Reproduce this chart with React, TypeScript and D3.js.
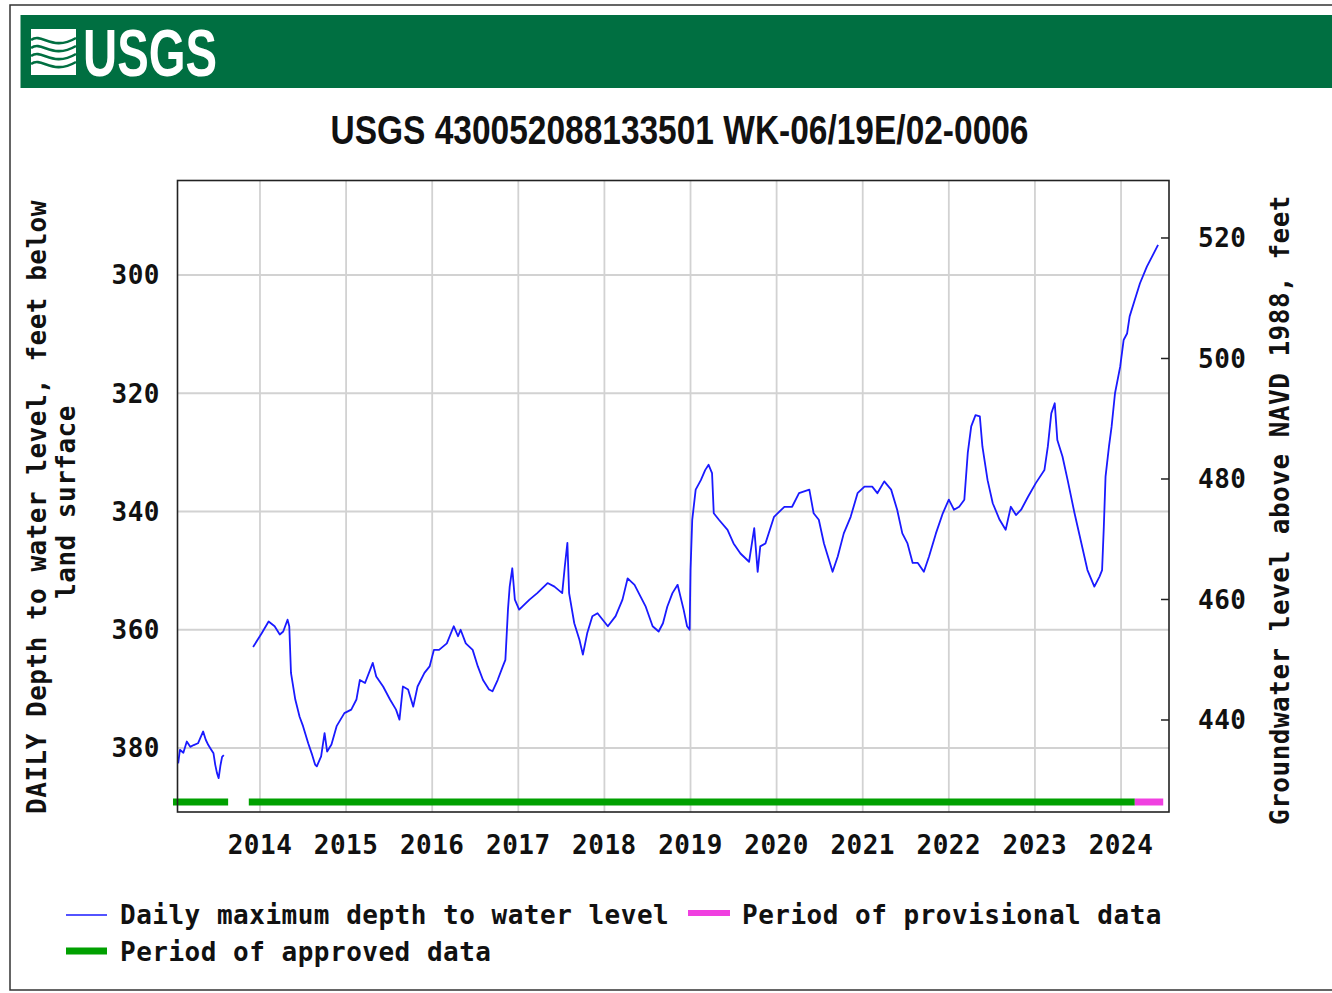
import * as d3 from "d3";

const yearTicks = [2014, 2015, 2016, 2017, 2018, 2019, 2020, 2021, 2022, 2023, 2024];
const depthTicks = [300, 320, 340, 360, 380];
const elevTicks = [440, 460, 480, 500, 520];

// [decimal year, depth below land surface (ft)]
const record2013: [number, number][] = [
  [2013.05, 382.6], [2013.07, 380.3], [2013.11, 380.8], [2013.15, 378.9], [2013.19, 379.8], [2013.23, 379.5],
  [2013.28, 379.2], [2013.34, 377.2], [2013.37, 378.6], [2013.40, 379.5], [2013.43, 380.2], [2013.46, 380.9],
  [2013.48, 382.8], [2013.50, 384.2], [2013.52, 385.1], [2013.54, 383.0], [2013.56, 381.5], [2013.58, 381.2],
];

const record2014on: [number, number][] = [
  [2013.92, 362.9], [2014.02, 360.6], [2014.10, 358.6], [2014.17, 359.4], [2014.23, 360.8], [2014.27, 360.3],
  [2014.32, 358.3], [2014.34, 359.4], [2014.36, 367.3], [2014.41, 371.8], [2014.46, 374.7], [2014.50, 376.3],
  [2014.56, 379.2], [2014.60, 380.9], [2014.64, 382.8], [2014.66, 383.1], [2014.71, 381.4], [2014.75, 377.5],
  [2014.78, 380.6], [2014.83, 379.4], [2014.89, 376.3], [2014.98, 374.1], [2015.06, 373.5], [2015.12, 371.8],
  [2015.16, 368.5], [2015.22, 369.0], [2015.31, 365.6], [2015.35, 367.9], [2015.43, 369.6], [2015.51, 371.8],
  [2015.58, 373.5], [2015.62, 375.2], [2015.66, 369.6], [2015.72, 370.1], [2015.78, 373.0], [2015.83, 369.6],
  [2015.91, 367.3], [2015.97, 366.2], [2016.02, 363.4], [2016.08, 363.4], [2016.17, 362.3], [2016.25, 359.4],
  [2016.30, 361.1], [2016.33, 360.0], [2016.39, 362.3], [2016.47, 363.4], [2016.53, 366.2], [2016.59, 368.5],
  [2016.66, 370.1], [2016.70, 370.4], [2016.76, 368.5], [2016.82, 366.2], [2016.85, 365.1], [2016.88, 356.6],
  [2016.90, 352.7], [2016.93, 349.6], [2016.96, 354.9], [2017.01, 356.6], [2017.13, 354.9], [2017.22, 353.8],
  [2017.34, 352.1], [2017.42, 352.7], [2017.51, 353.8], [2017.54, 349.3], [2017.57, 345.3], [2017.59, 353.8],
  [2017.65, 358.9], [2017.71, 361.7], [2017.75, 364.2], [2017.80, 360.6], [2017.86, 357.7], [2017.92, 357.2],
  [2017.98, 358.3], [2018.04, 359.4], [2018.13, 357.7], [2018.21, 354.9], [2018.27, 351.3], [2018.35, 352.4],
  [2018.42, 354.4], [2018.48, 356.1], [2018.56, 359.4], [2018.63, 360.3], [2018.68, 358.9], [2018.73, 356.1],
  [2018.79, 353.8], [2018.85, 352.4], [2018.92, 356.6], [2018.96, 359.4], [2018.99, 360.0], [2019.00, 350.0],
  [2019.02, 341.4], [2019.06, 336.3], [2019.12, 334.7], [2019.17, 333.0], [2019.21, 332.1], [2019.25, 333.5],
  [2019.27, 340.3], [2019.33, 341.4], [2019.43, 343.1], [2019.50, 345.4], [2019.58, 347.1], [2019.68, 348.5],
  [2019.74, 342.8], [2019.78, 350.2], [2019.81, 345.9], [2019.87, 345.4], [2019.97, 340.9], [2020.09, 339.2],
  [2020.18, 339.2], [2020.26, 336.9], [2020.38, 336.3], [2020.43, 340.3], [2020.49, 341.4], [2020.55, 345.4],
  [2020.65, 350.2], [2020.71, 347.6], [2020.78, 343.7], [2020.86, 340.9], [2020.94, 336.9], [2021.02, 335.8],
  [2021.11, 335.8], [2021.17, 336.9], [2021.25, 334.9], [2021.33, 336.3], [2021.40, 339.7], [2021.46, 343.7],
  [2021.52, 345.4], [2021.58, 348.7], [2021.64, 348.7], [2021.71, 350.2], [2021.77, 347.6], [2021.85, 343.7],
  [2021.93, 340.3], [2022.00, 338.0], [2022.06, 339.7], [2022.12, 339.2], [2022.18, 338.0], [2022.22, 330.1],
  [2022.26, 325.6], [2022.31, 323.7], [2022.36, 323.9], [2022.39, 329.0], [2022.45, 334.7], [2022.51, 338.6],
  [2022.59, 341.4], [2022.66, 343.1], [2022.72, 339.2], [2022.78, 340.6], [2022.84, 339.7], [2022.92, 337.5],
  [2023.01, 335.2], [2023.11, 333.0], [2023.15, 329.0], [2023.19, 323.4], [2023.23, 321.7], [2023.26, 327.9],
  [2023.32, 330.7], [2023.38, 334.7], [2023.46, 340.3], [2023.54, 345.4], [2023.61, 349.9], [2023.69, 352.7],
  [2023.75, 351.0], [2023.78, 349.9], [2023.80, 342.6], [2023.82, 334.1], [2023.86, 329.0], [2023.89, 325.7],
  [2023.93, 320.0], [2023.99, 315.5], [2024.03, 311.0], [2024.07, 309.9], [2024.10, 307.0], [2024.16, 304.2],
  [2024.22, 301.4], [2024.30, 298.6], [2024.36, 296.9], [2024.43, 294.9],
];

const approvedPeriods: [number, number][] = [[2012.99, 2013.63], [2013.87, 2024.16]];
const provisionalPeriods: [number, number][] = [[2024.16, 2024.49]];

const mono = "'DejaVu Sans Mono', 'Liberation Mono', monospace";
const narrow = "'Liberation Sans Narrow', 'Arial Narrow', 'Liberation Sans', sans-serif";
const ink = "#111";
const green = "#00a000";
const pink = "#f040e0";
const blue = "#1a1aff";

export default function App() {
  const plot = { left: 177.5, right: 1169, top: 180.5, bottom: 812 };
  const x = d3.scaleLinear().domain([2013.042, 2024.557]).range([plot.left, plot.right]);
  const yDepth = d3.scaleLinear().domain([284.02, 390.82]).range([plot.top, plot.bottom]);
  const yElev = d3.scaleLinear().domain([529.54, 424.73]).range([plot.top, plot.bottom]);
  const line = d3.line<[number, number]>().x(d => x(d[0])).y(d => yDepth(d[1]));
  const barY = plot.bottom - 10;

  return (
    <svg width={1332} height={993} style={{ position: "absolute", left: 0, top: 0, background: "#fff" }}>
      <rect x={10} y={5} width={1340} height={985} fill="#fff" stroke="#333" strokeWidth={1.5} />
      {/* header band */}
      <rect x={20.5} y={15} width={1320} height={73} fill="#006f41" />
      <rect x={31} y={29} width={45} height={46} fill="#fff" />
      {[0, 1, 2, 3].map(i => (
        <path key={i} d={`M31,${40 + i * 8} C42,${32 + i * 8} 52,${52 + i * 8} 76,${38 + i * 8}`}
          fill="none" stroke="#006f41" strokeWidth={2.6} />
      ))}
      <text x={83} y={76} fill="#fff" fontFamily={narrow} fontWeight="bold" fontSize={66}
        textLength={134} lengthAdjust="spacingAndGlyphs">USGS</text>
      <text x={679.5} y={144} textAnchor="middle" fill={ink} fontFamily={narrow} fontWeight="bold" fontSize={41}
        textLength={698} lengthAdjust="spacingAndGlyphs">USGS 430052088133501 WK-06/19E/02-0006</text>

      {/* grid */}
      {yearTicks.map(t => (
        <line key={"gx" + t} x1={x(t)} x2={x(t)} y1={plot.top} y2={plot.bottom} stroke="#d2d2d2" strokeWidth={1.8} />
      ))}
      {depthTicks.map(t => (
        <line key={"gy" + t} x1={plot.left} x2={plot.right} y1={yDepth(t)} y2={yDepth(t)} stroke="#d2d2d2" strokeWidth={1.8} />
      ))}

      {/* data */}
      <path d={line(record2013) ?? ""} fill="none" stroke={blue} strokeWidth={1.8} strokeLinejoin="round" />
      <path d={line(record2014on) ?? ""} fill="none" stroke={blue} strokeWidth={1.8} strokeLinejoin="round" />
      {approvedPeriods.map((p, i) => (
        <line key={"ap" + i} x1={x(p[0])} x2={x(p[1])} y1={barY} y2={barY} stroke={green} strokeWidth={7} />
      ))}
      {provisionalPeriods.map((p, i) => (
        <line key={"pp" + i} x1={x(p[0])} x2={x(p[1])} y1={barY} y2={barY} stroke={pink} strokeWidth={7} />
      ))}

      {/* frame + right ticks */}
      <rect x={plot.left} y={plot.top} width={plot.right - plot.left} height={plot.bottom - plot.top}
        fill="none" stroke="#222" strokeWidth={1.6} />
      {elevTicks.map(t => (
        <line key={"rt" + t} x1={plot.right - 8} x2={plot.right} y1={yElev(t)} y2={yElev(t)} stroke="#222" strokeWidth={1.5} />
      ))}

      {/* tick labels */}
      <g fontFamily={mono} fontWeight="bold" fontSize={26} fill={ink} letterSpacing={0.5}>
        {depthTicks.map(t => (
          <text key={"ly" + t} x={160} y={yDepth(t)} dy="0.36em" textAnchor="end">{t}</text>
        ))}
        {elevTicks.map(t => (
          <text key={"ry" + t} x={1198} y={yElev(t)} dy="0.36em">{t}</text>
        ))}
        {yearTicks.map(t => (
          <text key={"lx" + t} x={x(t)} y={854} textAnchor="middle">{t}</text>
        ))}
        <text transform="translate(46,507) rotate(-90)" textAnchor="middle">DAILY Depth to water level, feet below</text>
        <text transform="translate(75,502) rotate(-90)" textAnchor="middle">land surface</text>
        <text transform="translate(1289,510) rotate(-90)" textAnchor="middle">Groundwater level above NAVD 1988, feet</text>

        {/* legend */}
        <line x1={66} x2={107} y1={915} y2={915} stroke={blue} strokeWidth={1.6} />
        <text x={120} y={915} dy="0.36em">Daily maximum depth to water level</text>
        <line x1={688} x2={730} y1={913} y2={913} stroke={pink} strokeWidth={6} />
        <text x={742} y={915} dy="0.36em">Period of provisional data</text>
        <line x1={66} x2={107} y1={951} y2={951} stroke={green} strokeWidth={7} />
        <text x={120} y={952} dy="0.36em">Period of approved data</text>
      </g>
    </svg>
  );
}
